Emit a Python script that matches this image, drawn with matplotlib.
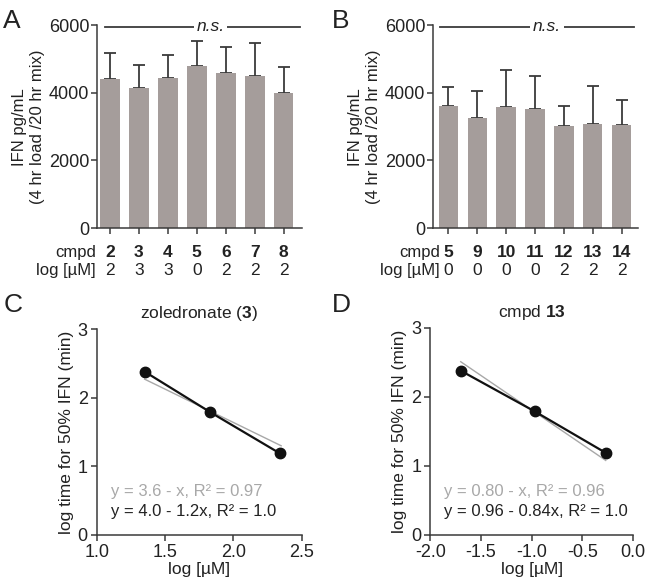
import numpy as np
import matplotlib
matplotlib.use("Agg")
import matplotlib.pyplot as plt
import matplotlib.transforms as mtransforms

plt.rcParams["font.family"] = ["Liberation Sans", "DejaVu Sans"]
plt.rcParams["font.size"] = 12
plt.rcParams["axes.unicode_minus"] = False
plt.rcParams["mathtext.fontset"] = "custom"
plt.rcParams["mathtext.rm"] = "Liberation Sans"
plt.rcParams["mathtext.bf"] = "Liberation Sans:bold"

# panel A
cmpd_a = ["2", "3", "4", "5", "6", "7", "8"]
logc_a = ["2", "3", "3", "0", "2", "2", "2"]
ifn_a = [4420, 4150, 4450, 4800, 4590, 4490, 3990]
err_a = [770, 670, 680, 740, 770, 990, 760]

# panel B
cmpd_b = ["5", "9", "10", "11", "12", "13", "14"]
logc_b = ["0", "0", "0", "0", "2", "2", "2"]
ifn_b = [3610, 3270, 3570, 3520, 3020, 3090, 3040]
err_b = [550, 790, 1100, 990, 590, 1120, 750]

# panel C (zoledronate)
x_c = [1.35, 1.83, 2.34]
y_c = [2.38, 1.79, 1.19]
gray_x_c = [1.35, 2.35]
gray_y_c = [2.27, 1.30]

# panel D (cmpd 13)
x_d = [-1.70, -0.97, -0.27]
y_d = [2.38, 1.79, 1.19]
gray_x_d = [-1.70, -0.27]
gray_y_d = [2.51, 1.08]

bar_col = "#a59d9b"
ax_col = "#3a3a3a"
txt_col = "#222222"

fig = plt.figure(figsize=(6.5, 5.85), dpi=100)


def style(ax):
    for s in ["top", "right"]:
        ax.spines[s].set_visible(False)
    for s in ["left", "bottom"]:
        ax.spines[s].set_color(ax_col)
        ax.spines[s].set_linewidth(1.1)
    ax.tick_params(colors=ax_col, labelcolor=txt_col, width=1.1, length=4,
                   labelsize=13, pad=1.5)


def bar_panel(ax, cmpd, logc, vals, errs, xlim, lab_x, ns_x, ns_line):
    pos = np.arange(len(vals))
    ax.bar(pos, vals, width=0.68, color=bar_col, zorder=2)
    ax.errorbar(pos, vals, yerr=[np.zeros(len(errs)), errs], fmt="none",
                ecolor=ax_col, elinewidth=1.3, capsize=4.5, capthick=1.3, zorder=1)
    style(ax)
    ax.set_ylim(0, 6000)
    ax.set_xlim(*xlim)
    ax.set_yticks([0, 2000, 4000, 6000])
    ax.set_xticks(pos)
    ax.set_xticklabels([])
    ax.set_ylabel("IFN pg/mL\n(4 hr load /20 hr mix)", fontsize=12, color=txt_col,
                  labelpad=3, linespacing=1.25)
    trans = mtransforms.blended_transform_factory(ax.transData, ax.transAxes)
    for p, c, l in zip(pos, cmpd, logc):
        ax.text(p, -0.12, c, transform=trans, ha="center", va="center",
                fontsize=12.5, fontweight="bold", color=txt_col)
        ax.text(p, -0.21, l, transform=trans, ha="center", va="center",
                fontsize=12.5, color=txt_col)
    ax.text(lab_x, -0.12, "cmpd", transform=ax.transAxes, ha="right", va="center",
            fontsize=12, color=txt_col)
    ax.text(lab_x, -0.21, "log [µM]", transform=ax.transAxes, ha="right", va="center",
            fontsize=12, color=txt_col)
    ax.plot(ns_line, [5950, 5950], color=ax_col, lw=1.3, clip_on=False)
    ax.text(ns_x, 5950, "n.s.", ha="center", va="center", style="italic",
            fontsize=12.5, color=txt_col,
            bbox=dict(facecolor="white", edgecolor="none", pad=2))


def line_panel(ax, x, y, gx, gy, xlim, xticks, title, eq_gray, eq_black):
    ax.plot(gx, gy, color="#a8a8a8", lw=1.0, zorder=2)
    ax.plot(x, y, color="#111111", lw=1.6, marker="o", markersize=7.5, zorder=3)
    style(ax)
    ax.tick_params(axis="y", pad=2.5)
    ax.tick_params(axis="x", pad=2.5)
    ax.set_xlim(*xlim)
    ax.set_ylim(0, 3)
    ax.set_yticks([0, 1, 2, 3])
    ax.set_xticks(xticks)
    ax.set_xticklabels([f"{t:.1f}" for t in xticks])
    ax.set_xlabel("log [µM]", fontsize=12.5, color=txt_col, labelpad=1)
    ax.set_ylabel("log time for 50% IFN (min)", fontsize=12.5, color=txt_col, labelpad=3)
    ax.set_title(title, fontsize=12.5, color=txt_col, pad=8)
    ax.text(0.07, 0.21, eq_gray, transform=ax.transAxes, color="#a8a8a8", fontsize=12,
            va="center")
    ax.text(0.07, 0.115, eq_black, transform=ax.transAxes, color=txt_col, fontsize=12,
            va="center")


ax_a = fig.add_axes([0.149, 0.610, 0.315, 0.347])
bar_panel(ax_a, cmpd_a, logc_a, ifn_a, err_a, (-0.45, 6.62), -0.005, 3.47, [-0.17, 6.55])

ax_b = fig.add_axes([0.666, 0.610, 0.315, 0.347])
bar_panel(ax_b, cmpd_b, logc_b, ifn_b, err_b, (-0.54, 6.56), 0.033, 3.41, [-0.29, 6.45])

ax_c = fig.add_axes([0.149, 0.0855, 0.315, 0.352])
line_panel(ax_c, x_c, y_c, gray_x_c, gray_y_c, (1.0, 2.5), [1.0, 1.5, 2.0, 2.5],
           r"zoledronate ($\mathbf{3}$)",
           "y = 3.6 - x, R² = 0.97", "y = 4.0 - 1.2x, R² = 1.0")

ax_d = fig.add_axes([0.662, 0.0855, 0.312, 0.354])
line_panel(ax_d, x_d, y_d, gray_x_d, gray_y_d, (-2.0, 0.0), [-2.0, -1.5, -1.0, -0.5, 0.0],
           r"cmpd $\mathbf{13}$",
           "y = 0.80 - x, R² = 0.96", "y = 0.96 - 0.84x, R² = 1.0")

for lbl, x, y in [("A", 0.005, 0.985), ("B", 0.51, 0.985), ("C", 0.005, 0.5), ("D", 0.51, 0.5)]:
    fig.text(x, y, lbl, fontsize=19, color=txt_col, va="top", ha="left")

fig.savefig("out.png", dpi=100, facecolor="white")
